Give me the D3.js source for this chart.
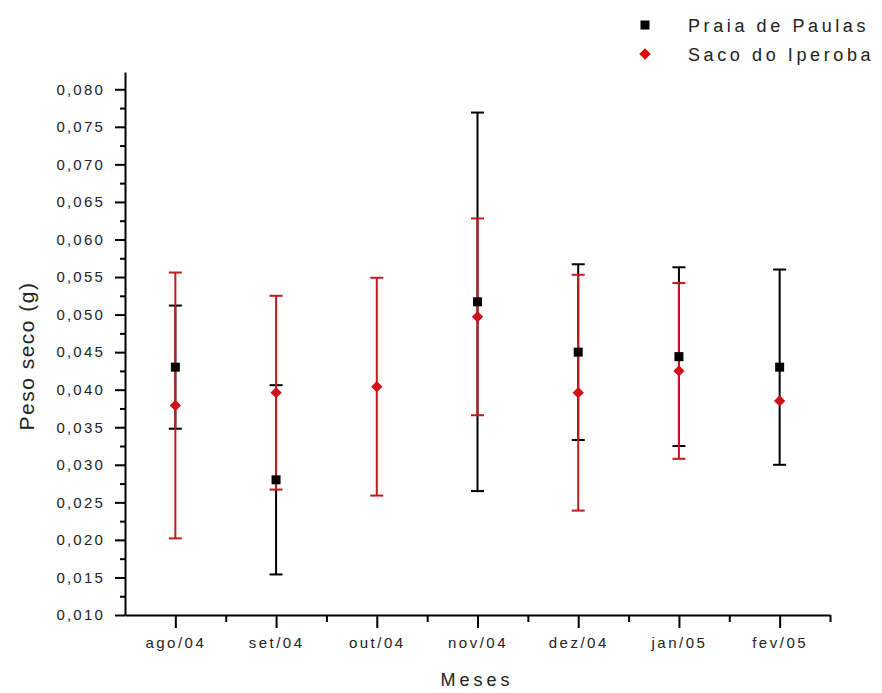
<!DOCTYPE html>
<html>
<head>
<meta charset="utf-8">
<script src="https://cdn.jsdelivr.net/npm/d3@7"></script>
<style>
  body { margin: 0; background: #fff; }
  text { font-family: Arial, "Liberation Sans", sans-serif; fill: #222; }
</style>
</head>
<body>
<div id="chart"></div>
<script>
const months = ["ago/04", "set/04", "out/04", "nov/04", "dez/04", "jan/05", "fev/05"];
const praiaMean = [0.0430, 0.0280, null, 0.0517, 0.0450, 0.0444, 0.0430];
const praiaErr = [0.0082, 0.0126, null, 0.0252, 0.0117, 0.0119, 0.0130];
const sacoMean = [0.0379, 0.0396, 0.0404, 0.0497, 0.0396, 0.0425, 0.0385];
const sacoErr = [0.0177, 0.0129, 0.0145, 0.0131, 0.0157, 0.0117, 0];
const yTicks = [0.010, 0.015, 0.020, 0.025, 0.030, 0.035, 0.040, 0.045,
                0.050, 0.055, 0.060, 0.065, 0.070, 0.075, 0.080];

const width = 882, height = 693;
const plotLeft = 125, plotRight = 830, plotTop = 72, plotBottom = 615;

const svg = d3.select("#chart").append("svg")
  .attr("width", width)
  .attr("height", height);

const x = d3.scaleLinear().domain([0.5, months.length + 0.5]).range([plotLeft, plotRight]);
const y = d3.scaleLinear().domain([0.010, 0.0823]).range([plotBottom, plotTop]);

const fmt = d => d3.format(".3f")(d).replace(".", ",");

// y axis: major + minor ticks
const yMinor = d3.range(0.0125, 0.0823, 0.005);
svg.append("g")
  .attr("transform", `translate(${plotLeft},0)`)
  .call(d3.axisLeft(y).tickValues(yMinor).tickSize(5).tickFormat(""))
  .call(g => g.select(".domain").remove())
  .call(g => g.selectAll("line").attr("stroke", "#000").attr("stroke-width", 2));

const yAxis = svg.append("g")
  .attr("transform", `translate(${plotLeft},0)`)
  .call(d3.axisLeft(y).tickValues(yTicks).tickSize(10).tickSizeOuter(0).tickPadding(10).tickFormat(fmt));
yAxis.select(".domain").attr("stroke", "#000").attr("stroke-width", 2);
yAxis.selectAll("line").attr("stroke", "#000").attr("stroke-width", 2);
yAxis.selectAll("text")
  .style("font-size", "15px")
  .style("letter-spacing", "2.2px")
  .attr("fill", "#333");

// x axis
const xMinor = d3.range(1.5, months.length + 1, 1);
svg.append("g")
  .attr("transform", `translate(0,${plotBottom})`)
  .call(d3.axisBottom(x).tickValues(xMinor).tickSize(7).tickFormat(""))
  .call(g => g.select(".domain").remove())
  .call(g => g.selectAll("line").attr("stroke", "#000").attr("stroke-width", 2));

const xAxis = svg.append("g")
  .attr("transform", `translate(0,${plotBottom})`)
  .call(d3.axisBottom(x).tickValues(d3.range(1, months.length + 1))
    .tickSize(13).tickSizeOuter(0).tickPadding(9).tickFormat(i => months[i - 1]));
xAxis.select(".domain").attr("stroke", "#000").attr("stroke-width", 2);
xAxis.selectAll("line").attr("stroke", "#000").attr("stroke-width", 2);
xAxis.selectAll("text")
  .style("font-size", "15px")
  .style("letter-spacing", "2.5px")
  .attr("fill", "#333");

// axis titles
svg.append("text")
  .attr("transform", `translate(34,356) rotate(-90)`)
  .attr("text-anchor", "middle")
  .style("font-size", "21px")
  .style("letter-spacing", "1.5px")
  .text("Peso seco (g)");

svg.append("text")
  .attr("x", 477)
  .attr("y", 686)
  .attr("text-anchor", "middle")
  .style("font-size", "18px")
  .style("letter-spacing", "4px")
  .text("Meses");

// error bars
const capW = 6.5;
function errorBars(means, errs, color) {
  const rows = months.map((m, i) => ({ i: i + 1, v: means[i], e: errs[i] }))
    .filter(d => d.v != null && d.e);
  const g = svg.append("g").attr("stroke", color).attr("stroke-width", 2);
  g.selectAll("line.v").data(rows).join("line").attr("class", "v")
    .attr("x1", d => x(d.i)).attr("x2", d => x(d.i))
    .attr("y1", d => y(d.v + d.e)).attr("y2", d => y(d.v - d.e));
  g.selectAll("line.t").data(rows).join("line").attr("class", "t")
    .attr("x1", d => x(d.i) - capW).attr("x2", d => x(d.i) + capW)
    .attr("y1", d => y(d.v + d.e)).attr("y2", d => y(d.v + d.e));
  g.selectAll("line.b").data(rows).join("line").attr("class", "b")
    .attr("x1", d => x(d.i) - capW).attr("x2", d => x(d.i) + capW)
    .attr("y1", d => y(d.v - d.e)).attr("y2", d => y(d.v - d.e));
}
errorBars(praiaMean, praiaErr, "#000");
errorBars(sacoMean, sacoErr, "#c41a1f");

// symbols: black squares, red diamonds (rotated squares)
const sq = d3.symbol().type(d3.symbolSquare).size(81);
const dia = d3.symbol().type(d3.symbolSquare).size(64);

svg.append("g").selectAll("path")
  .data(praiaMean.map((v, i) => ({ i: i + 1, v })).filter(d => d.v != null))
  .join("path")
  .attr("d", sq)
  .attr("transform", d => `translate(${x(d.i)},${y(d.v)})`)
  .attr("fill", "#000");

svg.append("g").selectAll("path")
  .data(sacoMean.map((v, i) => ({ i: i + 1, v })))
  .join("path")
  .attr("d", dia)
  .attr("transform", d => `translate(${x(d.i)},${y(d.v)}) rotate(45)`)
  .attr("fill", "#d0101a");

// legend
const legend = svg.append("g");
legend.append("path").attr("d", sq).attr("transform", "translate(645,25)").attr("fill", "#000");
legend.append("path").attr("d", dia).attr("transform", "translate(645,54) rotate(45)").attr("fill", "#e00000");
legend.append("text").attr("x", 688).attr("y", 32)
  .style("font-size", "18px").style("letter-spacing", "3.6px").text("Praia de Paulas");
legend.append("text").attr("x", 688).attr("y", 61)
  .style("font-size", "18px").style("letter-spacing", "3.6px").text("Saco do Iperoba");
</script>
</body>
</html>
